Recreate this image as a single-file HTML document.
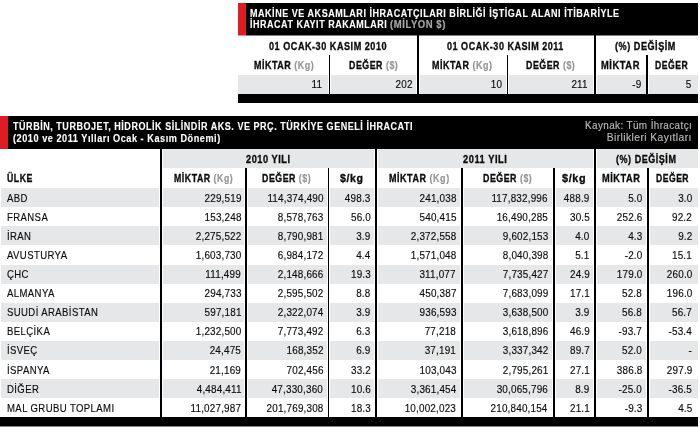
<!DOCTYPE html>
<html><head><meta charset="utf-8"><title>t</title>
<style>
html,body{margin:0;padding:0;background:#fff;}
body{width:700px;height:427px;position:relative;overflow:hidden;font-family:"Liberation Sans",sans-serif;}
.r{position:absolute;}
.t{position:absolute;white-space:pre;line-height:1;color:#1a1a1a;}
#w{position:absolute;left:0;top:0;width:700px;height:427px;will-change:transform;}
</style></head><body><div id="w">
<div class="r" style="left:238px;top:3px;width:460px;height:32px;background:#000"></div>
<div class="r" style="left:238px;top:3px;width:8px;height:32px;background:#df1b24"></div>
<div class="r" style="left:246px;top:35px;width:452px;height:1px;background:#808080"></div>
<div class="r" style="left:238px;top:35px;width:8px;height:1px;background:#ef8d91"></div>
<div class="t" style="top:9.00px;font-size:10.2px;letter-spacing:0.6px;left:250.00px;transform-origin:0 0;transform:scaleX(0.8849);"><span style="color:#fff;font-weight:700;-webkit-text-stroke:0.12px #fff;">MAKİNE VE AKSAMLARI İHRACATÇILARI BİRLİĞİ İŞTİGAL ALANI İTİBARİYLE</span></div>
<div class="t" style="top:20.00px;font-size:10.2px;letter-spacing:0.6px;left:250.00px;transform-origin:0 0;transform:scaleX(0.8806);"><span style="color:#fff;font-weight:700;-webkit-text-stroke:0.12px #fff;">İHRACAT KAYIT RAKAMLARI</span></div>
<div class="t" style="top:20.00px;font-size:10.2px;letter-spacing:0.6px;left:390.00px;transform-origin:0 0;transform:scaleX(0.9329);"><span style="color:#a6a6a6;font-weight:700;-webkit-text-stroke:0.2px #a6a6a6;">(MİLYON $)</span></div>
<div class="r" style="left:238px;top:75px;width:90px;height:19px;background:#e6e7e8"></div>
<div class="r" style="left:331px;top:75px;width:84.5px;height:19px;background:#e6e7e8"></div>
<div class="r" style="left:419.5px;top:75px;width:86.5px;height:19px;background:#e6e7e8"></div>
<div class="r" style="left:509px;top:75px;width:84px;height:19px;background:#e6e7e8"></div>
<div class="r" style="left:596.5px;top:75px;width:49px;height:19px;background:#e6e7e8"></div>
<div class="r" style="left:648.5px;top:75px;width:49.5px;height:19px;background:#e6e7e8"></div>
<div class="r" style="left:238px;top:94px;width:460px;height:9px;background:#000"></div>
<div class="r" style="left:328.7px;top:54.5px;width:1.8px;height:39.5px;background:#000"></div>
<div class="r" style="left:416.6px;top:35px;width:2px;height:59px;background:#000"></div>
<div class="r" style="left:506.6px;top:54.5px;width:1.8px;height:39.5px;background:#000"></div>
<div class="r" style="left:593.6px;top:35px;width:2px;height:59px;background:#000"></div>
<div class="r" style="left:646px;top:54.5px;width:1.8px;height:39.5px;background:#000"></div>
<div class="t" style="top:42.00px;font-size:10.4px;letter-spacing:0.6px;left:268.70px;transform-origin:0 0;transform:scaleX(0.8746);"><span style="color:#0a0a0a;font-weight:700;-webkit-text-stroke:0.3px #0a0a0a;">01 OCAK-30 KASIM 2010</span></div>
<div class="t" style="top:42.00px;font-size:10.4px;letter-spacing:0.6px;left:446.90px;transform-origin:0 0;transform:scaleX(0.8694);"><span style="color:#0a0a0a;font-weight:700;-webkit-text-stroke:0.3px #0a0a0a;">01 OCAK-30 KASIM 2011</span></div>
<div class="t" style="top:42.00px;font-size:10.4px;letter-spacing:0.6px;left:615.40px;transform-origin:0 0;transform:scaleX(0.8767);"><span style="color:#0a0a0a;font-weight:700;-webkit-text-stroke:0.3px #0a0a0a;">(%) DEĞİŞİM</span></div>
<div class="t" style="top:61.00px;font-size:10.4px;letter-spacing:0.6px;left:253.70px;transform-origin:0 0;transform:scaleX(0.8621);"><span style="color:#0a0a0a;font-weight:700;-webkit-text-stroke:0.3px #0a0a0a;">MİKTAR </span><span style="color:#969696;font-weight:700;-webkit-text-stroke:0.2px #969696;">(Kg)</span></div>
<div class="t" style="top:61.00px;font-size:10.4px;letter-spacing:0.6px;left:348.90px;transform-origin:0 0;transform:scaleX(0.8502);"><span style="color:#0a0a0a;font-weight:700;-webkit-text-stroke:0.3px #0a0a0a;">DEĞER </span><span style="color:#969696;font-weight:700;-webkit-text-stroke:0.2px #969696;">($)</span></div>
<div class="t" style="top:61.00px;font-size:10.4px;letter-spacing:0.6px;left:432.00px;transform-origin:0 0;transform:scaleX(0.8649);"><span style="color:#0a0a0a;font-weight:700;-webkit-text-stroke:0.3px #0a0a0a;">MİKTAR </span><span style="color:#969696;font-weight:700;-webkit-text-stroke:0.2px #969696;">(Kg)</span></div>
<div class="t" style="top:61.00px;font-size:10.4px;letter-spacing:0.6px;left:526.00px;transform-origin:0 0;transform:scaleX(0.8502);"><span style="color:#0a0a0a;font-weight:700;-webkit-text-stroke:0.3px #0a0a0a;">DEĞER </span><span style="color:#969696;font-weight:700;-webkit-text-stroke:0.2px #969696;">($)</span></div>
<div class="t" style="top:61.00px;font-size:10.4px;letter-spacing:0.6px;left:601.00px;transform-origin:0 0;transform:scaleX(0.9014);"><span style="color:#0a0a0a;font-weight:700;-webkit-text-stroke:0.3px #0a0a0a;">MİKTAR</span></div>
<div class="t" style="top:61.00px;font-size:10.4px;letter-spacing:0.6px;left:655.00px;transform-origin:0 0;transform:scaleX(0.8303);"><span style="color:#0a0a0a;font-weight:700;-webkit-text-stroke:0.3px #0a0a0a;">DEĞER</span></div>
<div class="t" style="top:79.00px;font-size:11.4px;letter-spacing:0.2px;right:377.30px;transform-origin:100% 0;transform:scaleX(0.8700);"><span style="color:#0a0a0a;-webkit-text-stroke:0.15px #0a0a0a;">11</span></div>
<div class="t" style="top:79.00px;font-size:11.4px;letter-spacing:0.2px;right:287.80px;transform-origin:100% 0;transform:scaleX(0.8700);"><span style="color:#0a0a0a;-webkit-text-stroke:0.15px #0a0a0a;">202</span></div>
<div class="t" style="top:79.00px;font-size:11.4px;letter-spacing:0.2px;right:197.80px;transform-origin:100% 0;transform:scaleX(0.8700);"><span style="color:#0a0a0a;-webkit-text-stroke:0.15px #0a0a0a;">10</span></div>
<div class="t" style="top:79.00px;font-size:11.4px;letter-spacing:0.2px;right:112.40px;transform-origin:100% 0;transform:scaleX(0.8700);"><span style="color:#0a0a0a;-webkit-text-stroke:0.15px #0a0a0a;">211</span></div>
<div class="t" style="top:79.00px;font-size:11.4px;letter-spacing:0.2px;right:58.20px;transform-origin:100% 0;transform:scaleX(0.8700);"><span style="color:#0a0a0a;-webkit-text-stroke:0.15px #0a0a0a;">-9</span></div>
<div class="t" style="top:79.00px;font-size:11.4px;letter-spacing:0.2px;right:8.10px;transform-origin:100% 0;transform:scaleX(0.8700);"><span style="color:#0a0a0a;-webkit-text-stroke:0.15px #0a0a0a;">5</span></div>
<div class="r" style="left:0px;top:116px;width:698px;height:32.5px;background:#000"></div>
<div class="r" style="left:0px;top:116px;width:8px;height:32.5px;background:#df1b24"></div>
<div class="t" style="top:122.00px;font-size:10.2px;letter-spacing:0.6px;left:13.00px;transform-origin:0 0;transform:scaleX(0.8854);"><span style="color:#fff;font-weight:700;-webkit-text-stroke:0.12px #fff;">TÜRBİN, TURBOJET, HİDROLİK SİLİNDİR AKS. VE PRÇ. TÜRKİYE GENELİ İHRACATI</span></div>
<div class="t" style="top:134.00px;font-size:10.2px;letter-spacing:0.6px;left:13.00px;transform-origin:0 0;transform:scaleX(0.8967);"><span style="color:#fff;font-weight:700;-webkit-text-stroke:0.12px #fff;">(2010 ve 2011 Yılları Ocak - Kasım Dönemi)</span></div>
<div class="t" style="top:121.00px;font-size:10.2px;letter-spacing:0.4px;right:7.80px;transform-origin:100% 0;transform:scaleX(0.9723);"><span style="color:#bababa;-webkit-text-stroke:0.15px #bababa;">Kaynak: Tüm İhracatçı</span></div>
<div class="t" style="top:133.00px;font-size:10.2px;letter-spacing:0.4px;right:7.80px;transform-origin:100% 0;transform:scaleX(1.0149);"><span style="color:#bababa;-webkit-text-stroke:0.15px #bababa;">Birlikleri Kayıtları</span></div>
<div class="r" style="left:163px;top:148.5px;width:210.6px;height:19.5px;background:#e6e7e8"></div>
<div class="r" style="left:378px;top:148.5px;width:215px;height:19.5px;background:#e6e7e8"></div>
<div class="r" style="left:597px;top:148.5px;width:101px;height:19.5px;background:#e6e7e8"></div>
<div class="r" style="left:1px;top:188px;width:157.6px;height:19px;background:#e6e7e8"></div>
<div class="r" style="left:163px;top:188px;width:81px;height:19px;background:#e6e7e8"></div>
<div class="r" style="left:248px;top:188px;width:79px;height:19px;background:#e6e7e8"></div>
<div class="r" style="left:330.3px;top:188px;width:43.3px;height:19px;background:#e6e7e8"></div>
<div class="r" style="left:378px;top:188px;width:82px;height:19px;background:#e6e7e8"></div>
<div class="r" style="left:464px;top:188px;width:88px;height:19px;background:#e6e7e8"></div>
<div class="r" style="left:556px;top:188px;width:37px;height:19px;background:#e6e7e8"></div>
<div class="r" style="left:597px;top:188px;width:49px;height:19px;background:#e6e7e8"></div>
<div class="r" style="left:650px;top:188px;width:48px;height:19px;background:#e6e7e8"></div>
<div class="r" style="left:1px;top:226px;width:157.6px;height:19px;background:#e6e7e8"></div>
<div class="r" style="left:163px;top:226px;width:81px;height:19px;background:#e6e7e8"></div>
<div class="r" style="left:248px;top:226px;width:79px;height:19px;background:#e6e7e8"></div>
<div class="r" style="left:330.3px;top:226px;width:43.3px;height:19px;background:#e6e7e8"></div>
<div class="r" style="left:378px;top:226px;width:82px;height:19px;background:#e6e7e8"></div>
<div class="r" style="left:464px;top:226px;width:88px;height:19px;background:#e6e7e8"></div>
<div class="r" style="left:556px;top:226px;width:37px;height:19px;background:#e6e7e8"></div>
<div class="r" style="left:597px;top:226px;width:49px;height:19px;background:#e6e7e8"></div>
<div class="r" style="left:650px;top:226px;width:48px;height:19px;background:#e6e7e8"></div>
<div class="r" style="left:1px;top:264.5px;width:157.6px;height:19px;background:#e6e7e8"></div>
<div class="r" style="left:163px;top:264.5px;width:81px;height:19px;background:#e6e7e8"></div>
<div class="r" style="left:248px;top:264.5px;width:79px;height:19px;background:#e6e7e8"></div>
<div class="r" style="left:330.3px;top:264.5px;width:43.3px;height:19px;background:#e6e7e8"></div>
<div class="r" style="left:378px;top:264.5px;width:82px;height:19px;background:#e6e7e8"></div>
<div class="r" style="left:464px;top:264.5px;width:88px;height:19px;background:#e6e7e8"></div>
<div class="r" style="left:556px;top:264.5px;width:37px;height:19px;background:#e6e7e8"></div>
<div class="r" style="left:597px;top:264.5px;width:49px;height:19px;background:#e6e7e8"></div>
<div class="r" style="left:650px;top:264.5px;width:48px;height:19px;background:#e6e7e8"></div>
<div class="r" style="left:1px;top:302.5px;width:157.6px;height:19px;background:#e6e7e8"></div>
<div class="r" style="left:163px;top:302.5px;width:81px;height:19px;background:#e6e7e8"></div>
<div class="r" style="left:248px;top:302.5px;width:79px;height:19px;background:#e6e7e8"></div>
<div class="r" style="left:330.3px;top:302.5px;width:43.3px;height:19px;background:#e6e7e8"></div>
<div class="r" style="left:378px;top:302.5px;width:82px;height:19px;background:#e6e7e8"></div>
<div class="r" style="left:464px;top:302.5px;width:88px;height:19px;background:#e6e7e8"></div>
<div class="r" style="left:556px;top:302.5px;width:37px;height:19px;background:#e6e7e8"></div>
<div class="r" style="left:597px;top:302.5px;width:49px;height:19px;background:#e6e7e8"></div>
<div class="r" style="left:650px;top:302.5px;width:48px;height:19px;background:#e6e7e8"></div>
<div class="r" style="left:1px;top:340.5px;width:157.6px;height:19.5px;background:#e6e7e8"></div>
<div class="r" style="left:163px;top:340.5px;width:81px;height:19.5px;background:#e6e7e8"></div>
<div class="r" style="left:248px;top:340.5px;width:79px;height:19.5px;background:#e6e7e8"></div>
<div class="r" style="left:330.3px;top:340.5px;width:43.3px;height:19.5px;background:#e6e7e8"></div>
<div class="r" style="left:378px;top:340.5px;width:82px;height:19.5px;background:#e6e7e8"></div>
<div class="r" style="left:464px;top:340.5px;width:88px;height:19.5px;background:#e6e7e8"></div>
<div class="r" style="left:556px;top:340.5px;width:37px;height:19.5px;background:#e6e7e8"></div>
<div class="r" style="left:597px;top:340.5px;width:49px;height:19.5px;background:#e6e7e8"></div>
<div class="r" style="left:650px;top:340.5px;width:48px;height:19.5px;background:#e6e7e8"></div>
<div class="r" style="left:1px;top:379px;width:157.6px;height:19px;background:#e6e7e8"></div>
<div class="r" style="left:163px;top:379px;width:81px;height:19px;background:#e6e7e8"></div>
<div class="r" style="left:248px;top:379px;width:79px;height:19px;background:#e6e7e8"></div>
<div class="r" style="left:330.3px;top:379px;width:43.3px;height:19px;background:#e6e7e8"></div>
<div class="r" style="left:378px;top:379px;width:82px;height:19px;background:#e6e7e8"></div>
<div class="r" style="left:464px;top:379px;width:88px;height:19px;background:#e6e7e8"></div>
<div class="r" style="left:556px;top:379px;width:37px;height:19px;background:#e6e7e8"></div>
<div class="r" style="left:597px;top:379px;width:49px;height:19px;background:#e6e7e8"></div>
<div class="r" style="left:650px;top:379px;width:48px;height:19px;background:#e6e7e8"></div>
<div class="r" style="left:0px;top:417px;width:698px;height:9px;background:#000"></div>
<div class="r" style="left:0px;top:426px;width:698px;height:1px;background:#888"></div>
<div class="r" style="left:160px;top:148.5px;width:2px;height:268.5px;background:#000"></div>
<div class="r" style="left:374.7px;top:148.5px;width:2px;height:268.5px;background:#000"></div>
<div class="r" style="left:594.2px;top:148.5px;width:2px;height:268.5px;background:#000"></div>
<div class="r" style="left:245.1px;top:168px;width:1.8px;height:249px;background:#000"></div>
<div class="r" style="left:327.7px;top:168px;width:1.8px;height:249px;background:#000"></div>
<div class="r" style="left:461.2px;top:168px;width:1.8px;height:249px;background:#000"></div>
<div class="r" style="left:553.1px;top:168px;width:1.8px;height:249px;background:#000"></div>
<div class="r" style="left:647.4px;top:168px;width:1.8px;height:249px;background:#000"></div>
<div class="t" style="top:155.00px;font-size:10.4px;letter-spacing:0.6px;left:245.80px;transform-origin:0 0;transform:scaleX(0.8845);"><span style="color:#0a0a0a;font-weight:700;-webkit-text-stroke:0.3px #0a0a0a;">2010 YILI</span></div>
<div class="t" style="top:155.00px;font-size:10.4px;letter-spacing:0.6px;left:462.60px;transform-origin:0 0;transform:scaleX(0.8947);"><span style="color:#0a0a0a;font-weight:700;-webkit-text-stroke:0.3px #0a0a0a;">2011 YILI</span></div>
<div class="t" style="top:155.00px;font-size:10.4px;letter-spacing:0.6px;left:616.00px;transform-origin:0 0;transform:scaleX(0.8695);"><span style="color:#0a0a0a;font-weight:700;-webkit-text-stroke:0.3px #0a0a0a;">(%) DEĞİŞİM</span></div>
<div class="t" style="top:174.00px;font-size:10.4px;letter-spacing:0.6px;left:7.00px;transform-origin:0 0;transform:scaleX(0.8401);"><span style="color:#0a0a0a;font-weight:700;-webkit-text-stroke:0.3px #0a0a0a;">ÜLKE</span></div>
<div class="t" style="top:174.00px;font-size:10.4px;letter-spacing:0.6px;left:173.60px;transform-origin:0 0;transform:scaleX(0.8478);"><span style="color:#0a0a0a;font-weight:700;-webkit-text-stroke:0.3px #0a0a0a;">MİKTAR </span><span style="color:#969696;font-weight:700;-webkit-text-stroke:0.2px #969696;">(Kg)</span></div>
<div class="t" style="top:174.00px;font-size:10.4px;letter-spacing:0.6px;left:262.00px;transform-origin:0 0;transform:scaleX(0.8485);"><span style="color:#0a0a0a;font-weight:700;-webkit-text-stroke:0.3px #0a0a0a;">DEĞER </span><span style="color:#969696;font-weight:700;-webkit-text-stroke:0.2px #969696;">($)</span></div>
<div class="t" style="top:174.00px;font-size:10.4px;letter-spacing:0.6px;left:340.40px;transform-origin:0 0;transform:scaleX(1.0124);"><span style="color:#0a0a0a;font-weight:700;-webkit-text-stroke:0.3px #0a0a0a;">$/kg</span></div>
<div class="t" style="top:174.00px;font-size:10.4px;letter-spacing:0.6px;left:388.60px;transform-origin:0 0;transform:scaleX(0.8678);"><span style="color:#0a0a0a;font-weight:700;-webkit-text-stroke:0.3px #0a0a0a;">MİKTAR </span><span style="color:#969696;font-weight:700;-webkit-text-stroke:0.2px #969696;">(Kg)</span></div>
<div class="t" style="top:174.00px;font-size:10.4px;letter-spacing:0.6px;left:483.10px;transform-origin:0 0;transform:scaleX(0.8502);"><span style="color:#0a0a0a;font-weight:700;-webkit-text-stroke:0.3px #0a0a0a;">DEĞER </span><span style="color:#969696;font-weight:700;-webkit-text-stroke:0.2px #969696;">($)</span></div>
<div class="t" style="top:174.00px;font-size:10.4px;letter-spacing:0.6px;left:562.20px;transform-origin:0 0;transform:scaleX(1.0426);"><span style="color:#0a0a0a;font-weight:700;-webkit-text-stroke:0.3px #0a0a0a;">$/kg</span></div>
<div class="t" style="top:174.00px;font-size:10.4px;letter-spacing:0.6px;left:601.70px;transform-origin:0 0;transform:scaleX(0.8898);"><span style="color:#0a0a0a;font-weight:700;-webkit-text-stroke:0.3px #0a0a0a;">MİKTAR</span></div>
<div class="t" style="top:174.00px;font-size:10.4px;letter-spacing:0.6px;left:655.60px;transform-origin:0 0;transform:scaleX(0.8278);"><span style="color:#0a0a0a;font-weight:700;-webkit-text-stroke:0.3px #0a0a0a;">DEĞER</span></div>
<div class="t" style="top:193.00px;font-size:10.8px;letter-spacing:0.45px;left:6.80px;transform-origin:0 0;transform:scaleX(0.8850);"><span style="color:#0a0a0a;-webkit-text-stroke:0.15px #0a0a0a;">ABD</span></div>
<div class="t" style="top:193.00px;font-size:11.4px;letter-spacing:0.2px;right:458.80px;transform-origin:100% 0;transform:scaleX(0.8700);"><span style="color:#0a0a0a;-webkit-text-stroke:0.15px #0a0a0a;">229,519</span></div>
<div class="t" style="top:193.00px;font-size:11.4px;letter-spacing:0.2px;right:376.70px;transform-origin:100% 0;transform:scaleX(0.8700);"><span style="color:#0a0a0a;-webkit-text-stroke:0.15px #0a0a0a;">114,374,490</span></div>
<div class="t" style="top:193.00px;font-size:11.4px;letter-spacing:0.2px;right:329.50px;transform-origin:100% 0;transform:scaleX(0.8700);"><span style="color:#0a0a0a;-webkit-text-stroke:0.15px #0a0a0a;">498.3</span></div>
<div class="t" style="top:193.00px;font-size:11.4px;letter-spacing:0.2px;right:243.80px;transform-origin:100% 0;transform:scaleX(0.8700);"><span style="color:#0a0a0a;-webkit-text-stroke:0.15px #0a0a0a;">241,038</span></div>
<div class="t" style="top:193.00px;font-size:11.4px;letter-spacing:0.2px;right:152.00px;transform-origin:100% 0;transform:scaleX(0.8700);"><span style="color:#0a0a0a;-webkit-text-stroke:0.15px #0a0a0a;">117,832,996</span></div>
<div class="t" style="top:193.00px;font-size:11.4px;letter-spacing:0.2px;right:110.30px;transform-origin:100% 0;transform:scaleX(0.8700);"><span style="color:#0a0a0a;-webkit-text-stroke:0.15px #0a0a0a;">488.9</span></div>
<div class="t" style="top:193.00px;font-size:11.4px;letter-spacing:0.2px;right:57.60px;transform-origin:100% 0;transform:scaleX(0.8700);"><span style="color:#0a0a0a;-webkit-text-stroke:0.15px #0a0a0a;">5.0</span></div>
<div class="t" style="top:193.00px;font-size:11.4px;letter-spacing:0.2px;right:7.90px;transform-origin:100% 0;transform:scaleX(0.8700);"><span style="color:#0a0a0a;-webkit-text-stroke:0.15px #0a0a0a;">3.0</span></div>
<div class="t" style="top:212.00px;font-size:10.8px;letter-spacing:0.45px;left:6.80px;transform-origin:0 0;transform:scaleX(0.8850);"><span style="color:#0a0a0a;-webkit-text-stroke:0.15px #0a0a0a;">FRANSA</span></div>
<div class="t" style="top:212.00px;font-size:11.4px;letter-spacing:0.2px;right:458.80px;transform-origin:100% 0;transform:scaleX(0.8700);"><span style="color:#0a0a0a;-webkit-text-stroke:0.15px #0a0a0a;">153,248</span></div>
<div class="t" style="top:212.00px;font-size:11.4px;letter-spacing:0.2px;right:376.70px;transform-origin:100% 0;transform:scaleX(0.8700);"><span style="color:#0a0a0a;-webkit-text-stroke:0.15px #0a0a0a;">8,578,763</span></div>
<div class="t" style="top:212.00px;font-size:11.4px;letter-spacing:0.2px;right:329.50px;transform-origin:100% 0;transform:scaleX(0.8700);"><span style="color:#0a0a0a;-webkit-text-stroke:0.15px #0a0a0a;">56.0</span></div>
<div class="t" style="top:212.00px;font-size:11.4px;letter-spacing:0.2px;right:243.80px;transform-origin:100% 0;transform:scaleX(0.8700);"><span style="color:#0a0a0a;-webkit-text-stroke:0.15px #0a0a0a;">540,415</span></div>
<div class="t" style="top:212.00px;font-size:11.4px;letter-spacing:0.2px;right:152.00px;transform-origin:100% 0;transform:scaleX(0.8700);"><span style="color:#0a0a0a;-webkit-text-stroke:0.15px #0a0a0a;">16,490,285</span></div>
<div class="t" style="top:212.00px;font-size:11.4px;letter-spacing:0.2px;right:110.30px;transform-origin:100% 0;transform:scaleX(0.8700);"><span style="color:#0a0a0a;-webkit-text-stroke:0.15px #0a0a0a;">30.5</span></div>
<div class="t" style="top:212.00px;font-size:11.4px;letter-spacing:0.2px;right:57.60px;transform-origin:100% 0;transform:scaleX(0.8700);"><span style="color:#0a0a0a;-webkit-text-stroke:0.15px #0a0a0a;">252.6</span></div>
<div class="t" style="top:212.00px;font-size:11.4px;letter-spacing:0.2px;right:7.90px;transform-origin:100% 0;transform:scaleX(0.8700);"><span style="color:#0a0a0a;-webkit-text-stroke:0.15px #0a0a0a;">92.2</span></div>
<div class="t" style="top:231.00px;font-size:10.8px;letter-spacing:0.45px;left:6.80px;transform-origin:0 0;transform:scaleX(0.8850);"><span style="color:#0a0a0a;-webkit-text-stroke:0.15px #0a0a0a;">İRAN</span></div>
<div class="t" style="top:231.00px;font-size:11.4px;letter-spacing:0.2px;right:458.80px;transform-origin:100% 0;transform:scaleX(0.8700);"><span style="color:#0a0a0a;-webkit-text-stroke:0.15px #0a0a0a;">2,275,522</span></div>
<div class="t" style="top:231.00px;font-size:11.4px;letter-spacing:0.2px;right:376.70px;transform-origin:100% 0;transform:scaleX(0.8700);"><span style="color:#0a0a0a;-webkit-text-stroke:0.15px #0a0a0a;">8,790,981</span></div>
<div class="t" style="top:231.00px;font-size:11.4px;letter-spacing:0.2px;right:329.50px;transform-origin:100% 0;transform:scaleX(0.8700);"><span style="color:#0a0a0a;-webkit-text-stroke:0.15px #0a0a0a;">3.9</span></div>
<div class="t" style="top:231.00px;font-size:11.4px;letter-spacing:0.2px;right:243.80px;transform-origin:100% 0;transform:scaleX(0.8700);"><span style="color:#0a0a0a;-webkit-text-stroke:0.15px #0a0a0a;">2,372,558</span></div>
<div class="t" style="top:231.00px;font-size:11.4px;letter-spacing:0.2px;right:152.00px;transform-origin:100% 0;transform:scaleX(0.8700);"><span style="color:#0a0a0a;-webkit-text-stroke:0.15px #0a0a0a;">9,602,153</span></div>
<div class="t" style="top:231.00px;font-size:11.4px;letter-spacing:0.2px;right:110.30px;transform-origin:100% 0;transform:scaleX(0.8700);"><span style="color:#0a0a0a;-webkit-text-stroke:0.15px #0a0a0a;">4.0</span></div>
<div class="t" style="top:231.00px;font-size:11.4px;letter-spacing:0.2px;right:57.60px;transform-origin:100% 0;transform:scaleX(0.8700);"><span style="color:#0a0a0a;-webkit-text-stroke:0.15px #0a0a0a;">4.3</span></div>
<div class="t" style="top:231.00px;font-size:11.4px;letter-spacing:0.2px;right:7.90px;transform-origin:100% 0;transform:scaleX(0.8700);"><span style="color:#0a0a0a;-webkit-text-stroke:0.15px #0a0a0a;">9.2</span></div>
<div class="t" style="top:250.00px;font-size:10.8px;letter-spacing:0.45px;left:6.80px;transform-origin:0 0;transform:scaleX(0.8850);"><span style="color:#0a0a0a;-webkit-text-stroke:0.15px #0a0a0a;">AVUSTURYA</span></div>
<div class="t" style="top:250.00px;font-size:11.4px;letter-spacing:0.2px;right:458.80px;transform-origin:100% 0;transform:scaleX(0.8700);"><span style="color:#0a0a0a;-webkit-text-stroke:0.15px #0a0a0a;">1,603,730</span></div>
<div class="t" style="top:250.00px;font-size:11.4px;letter-spacing:0.2px;right:376.70px;transform-origin:100% 0;transform:scaleX(0.8700);"><span style="color:#0a0a0a;-webkit-text-stroke:0.15px #0a0a0a;">6,984,172</span></div>
<div class="t" style="top:250.00px;font-size:11.4px;letter-spacing:0.2px;right:329.50px;transform-origin:100% 0;transform:scaleX(0.8700);"><span style="color:#0a0a0a;-webkit-text-stroke:0.15px #0a0a0a;">4.4</span></div>
<div class="t" style="top:250.00px;font-size:11.4px;letter-spacing:0.2px;right:243.80px;transform-origin:100% 0;transform:scaleX(0.8700);"><span style="color:#0a0a0a;-webkit-text-stroke:0.15px #0a0a0a;">1,571,048</span></div>
<div class="t" style="top:250.00px;font-size:11.4px;letter-spacing:0.2px;right:152.00px;transform-origin:100% 0;transform:scaleX(0.8700);"><span style="color:#0a0a0a;-webkit-text-stroke:0.15px #0a0a0a;">8,040,398</span></div>
<div class="t" style="top:250.00px;font-size:11.4px;letter-spacing:0.2px;right:110.30px;transform-origin:100% 0;transform:scaleX(0.8700);"><span style="color:#0a0a0a;-webkit-text-stroke:0.15px #0a0a0a;">5.1</span></div>
<div class="t" style="top:250.00px;font-size:11.4px;letter-spacing:0.2px;right:57.60px;transform-origin:100% 0;transform:scaleX(0.8700);"><span style="color:#0a0a0a;-webkit-text-stroke:0.15px #0a0a0a;">-2.0</span></div>
<div class="t" style="top:250.00px;font-size:11.4px;letter-spacing:0.2px;right:7.90px;transform-origin:100% 0;transform:scaleX(0.8700);"><span style="color:#0a0a0a;-webkit-text-stroke:0.15px #0a0a0a;">15.1</span></div>
<div class="t" style="top:269.00px;font-size:10.8px;letter-spacing:0.45px;left:6.80px;transform-origin:0 0;transform:scaleX(0.8850);"><span style="color:#0a0a0a;-webkit-text-stroke:0.15px #0a0a0a;">ÇHC</span></div>
<div class="t" style="top:269.00px;font-size:11.4px;letter-spacing:0.2px;right:458.80px;transform-origin:100% 0;transform:scaleX(0.8700);"><span style="color:#0a0a0a;-webkit-text-stroke:0.15px #0a0a0a;">111,499</span></div>
<div class="t" style="top:269.00px;font-size:11.4px;letter-spacing:0.2px;right:376.70px;transform-origin:100% 0;transform:scaleX(0.8700);"><span style="color:#0a0a0a;-webkit-text-stroke:0.15px #0a0a0a;">2,148,666</span></div>
<div class="t" style="top:269.00px;font-size:11.4px;letter-spacing:0.2px;right:329.50px;transform-origin:100% 0;transform:scaleX(0.8700);"><span style="color:#0a0a0a;-webkit-text-stroke:0.15px #0a0a0a;">19.3</span></div>
<div class="t" style="top:269.00px;font-size:11.4px;letter-spacing:0.2px;right:243.80px;transform-origin:100% 0;transform:scaleX(0.8700);"><span style="color:#0a0a0a;-webkit-text-stroke:0.15px #0a0a0a;">311,077</span></div>
<div class="t" style="top:269.00px;font-size:11.4px;letter-spacing:0.2px;right:152.00px;transform-origin:100% 0;transform:scaleX(0.8700);"><span style="color:#0a0a0a;-webkit-text-stroke:0.15px #0a0a0a;">7,735,427</span></div>
<div class="t" style="top:269.00px;font-size:11.4px;letter-spacing:0.2px;right:110.30px;transform-origin:100% 0;transform:scaleX(0.8700);"><span style="color:#0a0a0a;-webkit-text-stroke:0.15px #0a0a0a;">24.9</span></div>
<div class="t" style="top:269.00px;font-size:11.4px;letter-spacing:0.2px;right:57.60px;transform-origin:100% 0;transform:scaleX(0.8700);"><span style="color:#0a0a0a;-webkit-text-stroke:0.15px #0a0a0a;">179.0</span></div>
<div class="t" style="top:269.00px;font-size:11.4px;letter-spacing:0.2px;right:7.90px;transform-origin:100% 0;transform:scaleX(0.8700);"><span style="color:#0a0a0a;-webkit-text-stroke:0.15px #0a0a0a;">260.0</span></div>
<div class="t" style="top:288.00px;font-size:10.8px;letter-spacing:0.45px;left:6.80px;transform-origin:0 0;transform:scaleX(0.8850);"><span style="color:#0a0a0a;-webkit-text-stroke:0.15px #0a0a0a;">ALMANYA</span></div>
<div class="t" style="top:288.00px;font-size:11.4px;letter-spacing:0.2px;right:458.80px;transform-origin:100% 0;transform:scaleX(0.8700);"><span style="color:#0a0a0a;-webkit-text-stroke:0.15px #0a0a0a;">294,733</span></div>
<div class="t" style="top:288.00px;font-size:11.4px;letter-spacing:0.2px;right:376.70px;transform-origin:100% 0;transform:scaleX(0.8700);"><span style="color:#0a0a0a;-webkit-text-stroke:0.15px #0a0a0a;">2,595,502</span></div>
<div class="t" style="top:288.00px;font-size:11.4px;letter-spacing:0.2px;right:329.50px;transform-origin:100% 0;transform:scaleX(0.8700);"><span style="color:#0a0a0a;-webkit-text-stroke:0.15px #0a0a0a;">8.8</span></div>
<div class="t" style="top:288.00px;font-size:11.4px;letter-spacing:0.2px;right:243.80px;transform-origin:100% 0;transform:scaleX(0.8700);"><span style="color:#0a0a0a;-webkit-text-stroke:0.15px #0a0a0a;">450,387</span></div>
<div class="t" style="top:288.00px;font-size:11.4px;letter-spacing:0.2px;right:152.00px;transform-origin:100% 0;transform:scaleX(0.8700);"><span style="color:#0a0a0a;-webkit-text-stroke:0.15px #0a0a0a;">7,683,099</span></div>
<div class="t" style="top:288.00px;font-size:11.4px;letter-spacing:0.2px;right:110.30px;transform-origin:100% 0;transform:scaleX(0.8700);"><span style="color:#0a0a0a;-webkit-text-stroke:0.15px #0a0a0a;">17.1</span></div>
<div class="t" style="top:288.00px;font-size:11.4px;letter-spacing:0.2px;right:57.60px;transform-origin:100% 0;transform:scaleX(0.8700);"><span style="color:#0a0a0a;-webkit-text-stroke:0.15px #0a0a0a;">52.8</span></div>
<div class="t" style="top:288.00px;font-size:11.4px;letter-spacing:0.2px;right:7.90px;transform-origin:100% 0;transform:scaleX(0.8700);"><span style="color:#0a0a0a;-webkit-text-stroke:0.15px #0a0a0a;">196.0</span></div>
<div class="t" style="top:307.00px;font-size:10.8px;letter-spacing:0.45px;left:6.80px;transform-origin:0 0;transform:scaleX(0.8850);"><span style="color:#0a0a0a;-webkit-text-stroke:0.15px #0a0a0a;">SUUDİ ARABİSTAN</span></div>
<div class="t" style="top:307.00px;font-size:11.4px;letter-spacing:0.2px;right:458.80px;transform-origin:100% 0;transform:scaleX(0.8700);"><span style="color:#0a0a0a;-webkit-text-stroke:0.15px #0a0a0a;">597,181</span></div>
<div class="t" style="top:307.00px;font-size:11.4px;letter-spacing:0.2px;right:376.70px;transform-origin:100% 0;transform:scaleX(0.8700);"><span style="color:#0a0a0a;-webkit-text-stroke:0.15px #0a0a0a;">2,322,074</span></div>
<div class="t" style="top:307.00px;font-size:11.4px;letter-spacing:0.2px;right:329.50px;transform-origin:100% 0;transform:scaleX(0.8700);"><span style="color:#0a0a0a;-webkit-text-stroke:0.15px #0a0a0a;">3.9</span></div>
<div class="t" style="top:307.00px;font-size:11.4px;letter-spacing:0.2px;right:243.80px;transform-origin:100% 0;transform:scaleX(0.8700);"><span style="color:#0a0a0a;-webkit-text-stroke:0.15px #0a0a0a;">936,593</span></div>
<div class="t" style="top:307.00px;font-size:11.4px;letter-spacing:0.2px;right:152.00px;transform-origin:100% 0;transform:scaleX(0.8700);"><span style="color:#0a0a0a;-webkit-text-stroke:0.15px #0a0a0a;">3,638,500</span></div>
<div class="t" style="top:307.00px;font-size:11.4px;letter-spacing:0.2px;right:110.30px;transform-origin:100% 0;transform:scaleX(0.8700);"><span style="color:#0a0a0a;-webkit-text-stroke:0.15px #0a0a0a;">3.9</span></div>
<div class="t" style="top:307.00px;font-size:11.4px;letter-spacing:0.2px;right:57.60px;transform-origin:100% 0;transform:scaleX(0.8700);"><span style="color:#0a0a0a;-webkit-text-stroke:0.15px #0a0a0a;">56.8</span></div>
<div class="t" style="top:307.00px;font-size:11.4px;letter-spacing:0.2px;right:7.90px;transform-origin:100% 0;transform:scaleX(0.8700);"><span style="color:#0a0a0a;-webkit-text-stroke:0.15px #0a0a0a;">56.7</span></div>
<div class="t" style="top:326.00px;font-size:10.8px;letter-spacing:0.45px;left:6.80px;transform-origin:0 0;transform:scaleX(0.8850);"><span style="color:#0a0a0a;-webkit-text-stroke:0.15px #0a0a0a;">BELÇİKA</span></div>
<div class="t" style="top:326.00px;font-size:11.4px;letter-spacing:0.2px;right:458.80px;transform-origin:100% 0;transform:scaleX(0.8700);"><span style="color:#0a0a0a;-webkit-text-stroke:0.15px #0a0a0a;">1,232,500</span></div>
<div class="t" style="top:326.00px;font-size:11.4px;letter-spacing:0.2px;right:376.70px;transform-origin:100% 0;transform:scaleX(0.8700);"><span style="color:#0a0a0a;-webkit-text-stroke:0.15px #0a0a0a;">7,773,492</span></div>
<div class="t" style="top:326.00px;font-size:11.4px;letter-spacing:0.2px;right:329.50px;transform-origin:100% 0;transform:scaleX(0.8700);"><span style="color:#0a0a0a;-webkit-text-stroke:0.15px #0a0a0a;">6.3</span></div>
<div class="t" style="top:326.00px;font-size:11.4px;letter-spacing:0.2px;right:243.80px;transform-origin:100% 0;transform:scaleX(0.8700);"><span style="color:#0a0a0a;-webkit-text-stroke:0.15px #0a0a0a;">77,218</span></div>
<div class="t" style="top:326.00px;font-size:11.4px;letter-spacing:0.2px;right:152.00px;transform-origin:100% 0;transform:scaleX(0.8700);"><span style="color:#0a0a0a;-webkit-text-stroke:0.15px #0a0a0a;">3,618,896</span></div>
<div class="t" style="top:326.00px;font-size:11.4px;letter-spacing:0.2px;right:110.30px;transform-origin:100% 0;transform:scaleX(0.8700);"><span style="color:#0a0a0a;-webkit-text-stroke:0.15px #0a0a0a;">46.9</span></div>
<div class="t" style="top:326.00px;font-size:11.4px;letter-spacing:0.2px;right:57.60px;transform-origin:100% 0;transform:scaleX(0.8700);"><span style="color:#0a0a0a;-webkit-text-stroke:0.15px #0a0a0a;">-93.7</span></div>
<div class="t" style="top:326.00px;font-size:11.4px;letter-spacing:0.2px;right:7.90px;transform-origin:100% 0;transform:scaleX(0.8700);"><span style="color:#0a0a0a;-webkit-text-stroke:0.15px #0a0a0a;">-53.4</span></div>
<div class="t" style="top:345.00px;font-size:10.8px;letter-spacing:0.45px;left:6.80px;transform-origin:0 0;transform:scaleX(0.8850);"><span style="color:#0a0a0a;-webkit-text-stroke:0.15px #0a0a0a;">İSVEÇ</span></div>
<div class="t" style="top:345.00px;font-size:11.4px;letter-spacing:0.2px;right:458.80px;transform-origin:100% 0;transform:scaleX(0.8700);"><span style="color:#0a0a0a;-webkit-text-stroke:0.15px #0a0a0a;">24,475</span></div>
<div class="t" style="top:345.00px;font-size:11.4px;letter-spacing:0.2px;right:376.70px;transform-origin:100% 0;transform:scaleX(0.8700);"><span style="color:#0a0a0a;-webkit-text-stroke:0.15px #0a0a0a;">168,352</span></div>
<div class="t" style="top:345.00px;font-size:11.4px;letter-spacing:0.2px;right:329.50px;transform-origin:100% 0;transform:scaleX(0.8700);"><span style="color:#0a0a0a;-webkit-text-stroke:0.15px #0a0a0a;">6.9</span></div>
<div class="t" style="top:345.00px;font-size:11.4px;letter-spacing:0.2px;right:243.80px;transform-origin:100% 0;transform:scaleX(0.8700);"><span style="color:#0a0a0a;-webkit-text-stroke:0.15px #0a0a0a;">37,191</span></div>
<div class="t" style="top:345.00px;font-size:11.4px;letter-spacing:0.2px;right:152.00px;transform-origin:100% 0;transform:scaleX(0.8700);"><span style="color:#0a0a0a;-webkit-text-stroke:0.15px #0a0a0a;">3,337,342</span></div>
<div class="t" style="top:345.00px;font-size:11.4px;letter-spacing:0.2px;right:110.30px;transform-origin:100% 0;transform:scaleX(0.8700);"><span style="color:#0a0a0a;-webkit-text-stroke:0.15px #0a0a0a;">89.7</span></div>
<div class="t" style="top:345.00px;font-size:11.4px;letter-spacing:0.2px;right:57.60px;transform-origin:100% 0;transform:scaleX(0.8700);"><span style="color:#0a0a0a;-webkit-text-stroke:0.15px #0a0a0a;">52.0</span></div>
<div class="t" style="top:345.00px;font-size:11.4px;letter-spacing:0.2px;right:7.90px;transform-origin:100% 0;transform:scaleX(0.8700);"><span style="color:#0a0a0a;-webkit-text-stroke:0.15px #0a0a0a;">-</span></div>
<div class="t" style="top:365.00px;font-size:10.8px;letter-spacing:0.45px;left:6.80px;transform-origin:0 0;transform:scaleX(0.8850);"><span style="color:#0a0a0a;-webkit-text-stroke:0.15px #0a0a0a;">İSPANYA</span></div>
<div class="t" style="top:365.00px;font-size:11.4px;letter-spacing:0.2px;right:458.80px;transform-origin:100% 0;transform:scaleX(0.8700);"><span style="color:#0a0a0a;-webkit-text-stroke:0.15px #0a0a0a;">21,169</span></div>
<div class="t" style="top:365.00px;font-size:11.4px;letter-spacing:0.2px;right:376.70px;transform-origin:100% 0;transform:scaleX(0.8700);"><span style="color:#0a0a0a;-webkit-text-stroke:0.15px #0a0a0a;">702,456</span></div>
<div class="t" style="top:365.00px;font-size:11.4px;letter-spacing:0.2px;right:329.50px;transform-origin:100% 0;transform:scaleX(0.8700);"><span style="color:#0a0a0a;-webkit-text-stroke:0.15px #0a0a0a;">33.2</span></div>
<div class="t" style="top:365.00px;font-size:11.4px;letter-spacing:0.2px;right:243.80px;transform-origin:100% 0;transform:scaleX(0.8700);"><span style="color:#0a0a0a;-webkit-text-stroke:0.15px #0a0a0a;">103,043</span></div>
<div class="t" style="top:365.00px;font-size:11.4px;letter-spacing:0.2px;right:152.00px;transform-origin:100% 0;transform:scaleX(0.8700);"><span style="color:#0a0a0a;-webkit-text-stroke:0.15px #0a0a0a;">2,795,261</span></div>
<div class="t" style="top:365.00px;font-size:11.4px;letter-spacing:0.2px;right:110.30px;transform-origin:100% 0;transform:scaleX(0.8700);"><span style="color:#0a0a0a;-webkit-text-stroke:0.15px #0a0a0a;">27.1</span></div>
<div class="t" style="top:365.00px;font-size:11.4px;letter-spacing:0.2px;right:57.60px;transform-origin:100% 0;transform:scaleX(0.8700);"><span style="color:#0a0a0a;-webkit-text-stroke:0.15px #0a0a0a;">386.8</span></div>
<div class="t" style="top:365.00px;font-size:11.4px;letter-spacing:0.2px;right:7.90px;transform-origin:100% 0;transform:scaleX(0.8700);"><span style="color:#0a0a0a;-webkit-text-stroke:0.15px #0a0a0a;">297.9</span></div>
<div class="t" style="top:384.00px;font-size:10.8px;letter-spacing:0.45px;left:6.80px;transform-origin:0 0;transform:scaleX(0.8850);"><span style="color:#0a0a0a;-webkit-text-stroke:0.15px #0a0a0a;">DİĞER</span></div>
<div class="t" style="top:384.00px;font-size:11.4px;letter-spacing:0.2px;right:458.80px;transform-origin:100% 0;transform:scaleX(0.8700);"><span style="color:#0a0a0a;-webkit-text-stroke:0.15px #0a0a0a;">4,484,411</span></div>
<div class="t" style="top:384.00px;font-size:11.4px;letter-spacing:0.2px;right:376.70px;transform-origin:100% 0;transform:scaleX(0.8700);"><span style="color:#0a0a0a;-webkit-text-stroke:0.15px #0a0a0a;">47,330,360</span></div>
<div class="t" style="top:384.00px;font-size:11.4px;letter-spacing:0.2px;right:329.50px;transform-origin:100% 0;transform:scaleX(0.8700);"><span style="color:#0a0a0a;-webkit-text-stroke:0.15px #0a0a0a;">10.6</span></div>
<div class="t" style="top:384.00px;font-size:11.4px;letter-spacing:0.2px;right:243.80px;transform-origin:100% 0;transform:scaleX(0.8700);"><span style="color:#0a0a0a;-webkit-text-stroke:0.15px #0a0a0a;">3,361,454</span></div>
<div class="t" style="top:384.00px;font-size:11.4px;letter-spacing:0.2px;right:152.00px;transform-origin:100% 0;transform:scaleX(0.8700);"><span style="color:#0a0a0a;-webkit-text-stroke:0.15px #0a0a0a;">30,065,796</span></div>
<div class="t" style="top:384.00px;font-size:11.4px;letter-spacing:0.2px;right:110.30px;transform-origin:100% 0;transform:scaleX(0.8700);"><span style="color:#0a0a0a;-webkit-text-stroke:0.15px #0a0a0a;">8.9</span></div>
<div class="t" style="top:384.00px;font-size:11.4px;letter-spacing:0.2px;right:57.60px;transform-origin:100% 0;transform:scaleX(0.8700);"><span style="color:#0a0a0a;-webkit-text-stroke:0.15px #0a0a0a;">-25.0</span></div>
<div class="t" style="top:384.00px;font-size:11.4px;letter-spacing:0.2px;right:7.90px;transform-origin:100% 0;transform:scaleX(0.8700);"><span style="color:#0a0a0a;-webkit-text-stroke:0.15px #0a0a0a;">-36.5</span></div>
<div class="t" style="top:403.00px;font-size:10.8px;letter-spacing:0.45px;left:6.80px;transform-origin:0 0;transform:scaleX(0.8850);"><span style="color:#0a0a0a;-webkit-text-stroke:0.15px #0a0a0a;">MAL GRUBU TOPLAMI</span></div>
<div class="t" style="top:403.00px;font-size:11.4px;letter-spacing:0.2px;right:458.80px;transform-origin:100% 0;transform:scaleX(0.8700);"><span style="color:#0a0a0a;-webkit-text-stroke:0.15px #0a0a0a;">11,027,987</span></div>
<div class="t" style="top:403.00px;font-size:11.4px;letter-spacing:0.2px;right:376.70px;transform-origin:100% 0;transform:scaleX(0.8700);"><span style="color:#0a0a0a;-webkit-text-stroke:0.15px #0a0a0a;">201,769,308</span></div>
<div class="t" style="top:403.00px;font-size:11.4px;letter-spacing:0.2px;right:329.50px;transform-origin:100% 0;transform:scaleX(0.8700);"><span style="color:#0a0a0a;-webkit-text-stroke:0.15px #0a0a0a;">18.3</span></div>
<div class="t" style="top:403.00px;font-size:11.4px;letter-spacing:0.2px;right:243.80px;transform-origin:100% 0;transform:scaleX(0.8700);"><span style="color:#0a0a0a;-webkit-text-stroke:0.15px #0a0a0a;">10,002,023</span></div>
<div class="t" style="top:403.00px;font-size:11.4px;letter-spacing:0.2px;right:152.00px;transform-origin:100% 0;transform:scaleX(0.8700);"><span style="color:#0a0a0a;-webkit-text-stroke:0.15px #0a0a0a;">210,840,154</span></div>
<div class="t" style="top:403.00px;font-size:11.4px;letter-spacing:0.2px;right:110.30px;transform-origin:100% 0;transform:scaleX(0.8700);"><span style="color:#0a0a0a;-webkit-text-stroke:0.15px #0a0a0a;">21.1</span></div>
<div class="t" style="top:403.00px;font-size:11.4px;letter-spacing:0.2px;right:57.60px;transform-origin:100% 0;transform:scaleX(0.8700);"><span style="color:#0a0a0a;-webkit-text-stroke:0.15px #0a0a0a;">-9.3</span></div>
<div class="t" style="top:403.00px;font-size:11.4px;letter-spacing:0.2px;right:7.90px;transform-origin:100% 0;transform:scaleX(0.8700);"><span style="color:#0a0a0a;-webkit-text-stroke:0.15px #0a0a0a;">4.5</span></div>
</div></body></html>
